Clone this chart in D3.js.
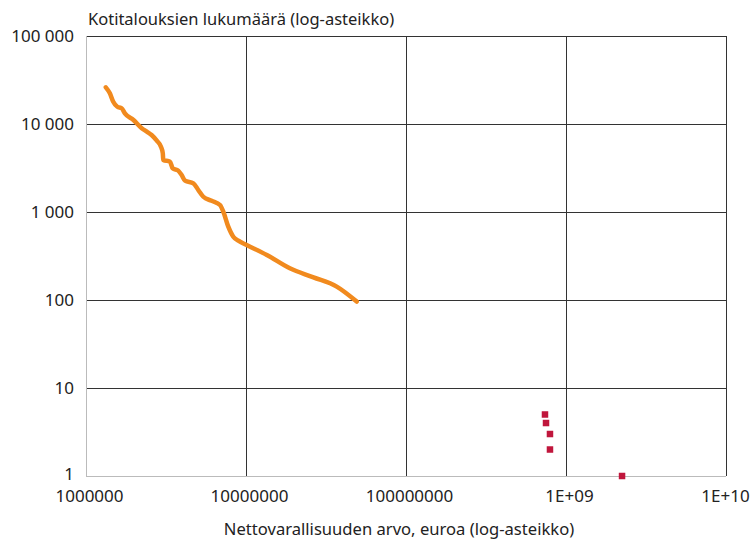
<!DOCTYPE html>
<html>
<head>
<meta charset="utf-8">
<script src="https://cdn.jsdelivr.net/npm/d3@7"></script>
<style>
  body { margin: 0; background: #fff; }
  svg text { font-family: "Noto Sans", "Open Sans", sans-serif; fill: #222; }
</style>
</head>
<body>
<div id="chart"></div>
<script>
// Net wealth (euros) vs. number of households, both on log scales
const curveWealth = [1.33e6, 1.41e6, 1.48e6, 1.57e6, 1.67e6, 1.75e6, 1.98e6, 2.23e6, 2.40e6, 2.57e6,
  2.77e6, 2.94e6, 3.02e6, 3.04e6, 3.35e6, 3.48e6, 3.77e6, 3.96e6, 4.16e6, 4.69e6,
  5.03e6, 5.41e6, 6.10e6, 6.88e6, 7.21e6, 7.75e6, 8.33e6, 8.95e6, 1.01e7, 1.35e7,
  1.88e7, 2.64e7, 3.69e7, 4.92e7];
const curveHouseholds = [26100, 22300, 17900, 15700, 15100, 13200, 11100, 8940, 8180, 7500,
  6460, 5520, 4650, 3900, 3730, 3140, 2950, 2630, 2270, 2120,
  1780, 1490, 1340, 1200, 1010, 681, 524, 472, 422, 325,
  229, 181, 142, 96];

const topWealth = [7.39e8, 7.5e8, 7.94e8, 7.94e8, 2.24e9];
const topHouseholds = [5, 4, 3, 2, 1];

const xTicks = [1e6, 1e7, 1e8, 1e9, 1e10];
const xTickLabels = ['1000000', '10000000', '100000000', '1E+09', '1E+10'];
const yTicks = [1, 10, 100, 1000, 10000, 100000];
const yTickLabels = ['1', '10', '100', '1 000', '10 000', '100 000'];

const margin = {top: 36, right: 26, bottom: 66, left: 86};
const width = 752 - margin.left - margin.right;
const height = 542 - margin.top - margin.bottom;

const svg = d3.select('#chart').append('svg')
    .attr('width', 752)
    .attr('height', 542);

const g = svg.append('g')
    .attr('transform', `translate(${margin.left},${margin.top})`);

const x = d3.scaleLog().domain([1e6, 1e10]).range([0, width]);
const y = d3.scaleLog().domain([1, 1e5]).range([height, 0]);

// gridlines
g.append('g')
    .selectAll('line')
    .data(yTicks.slice(1))
    .enter()
    .append('line')
    .attr('x1', 0)
    .attr('x2', width)
    .attr('y1', d => Math.round(y(d)) + 0.5)
    .attr('y2', d => Math.round(y(d)) + 0.5)
    .attr('stroke', '#333')
    .attr('stroke-width', 1);

g.append('g')
    .selectAll('line')
    .data(xTicks.slice(1))
    .enter()
    .append('line')
    .attr('x1', d => Math.round(x(d)) + 0.5)
    .attr('x2', d => Math.round(x(d)) + 0.5)
    .attr('y1', 0)
    .attr('y2', height)
    .attr('stroke', '#333')
    .attr('stroke-width', 1);

// axes
const xAxis = g.append('g')
    .attr('transform', `translate(0,${height})`)
    .call(d3.axisBottom(x).tickValues(xTicks).tickSize(0).tickPadding(14)
        .tickFormat((d, i) => xTickLabels[i]));
xAxis.select('.domain').attr('stroke', '#bbb').attr('d', `M0,0.5H${width}`);
xAxis.selectAll('text').style('font-size', '17px')
    .attr('dx', d => d === 1e10 ? -1 : 3);

const yAxis = g.append('g')
    .call(d3.axisLeft(y).tickValues(yTicks).tickSize(0).tickPadding(12)
        .tickFormat((d, i) => yTickLabels[i]));
yAxis.select('.domain').attr('stroke', '#bbb').attr('d', `M0.5,0V${height}`);
yAxis.selectAll('text').style('font-size', '17px');
yAxis.selectAll('.tick').filter(d => d === 1).select('text').attr('dy', '0.2em');

// curve
const line = d3.line()
    .x((d, i) => x(curveWealth[i]))
    .y(d => y(d))
    .curve(d3.curveMonotoneX);

g.append('path')
    .datum(curveHouseholds)
    .attr('d', line)
    .attr('fill', 'none')
    .attr('stroke', '#f18a1e')
    .attr('stroke-width', 4.5)
    .attr('stroke-linecap', 'round')
    .attr('stroke-linejoin', 'round');

// richest households as squares
const sq = 6.5;
g.selectAll('.top-hh')
    .data(topHouseholds)
    .enter()
    .append('rect')
    .attr('class', 'top-hh')
    .attr('x', (d, i) => x(topWealth[i]) - sq / 2)
    .attr('y', d => y(d) - sq / 2)
    .attr('width', sq)
    .attr('height', sq)
    .attr('fill', '#c0163c');

// titles
svg.append('text')
    .attr('x', 88)
    .attr('y', 25)
    .style('font-size', '16.5px')
    .text('Kotitalouksien lukumäärä (log-asteikko)');

svg.append('text')
    .attr('x', 399)
    .attr('y', 535)
    .attr('text-anchor', 'middle')
    .style('font-size', '16.6px')
    .text('Nettovarallisuuden arvo, euroa (log-asteikko)');
</script>
</body>
</html>
